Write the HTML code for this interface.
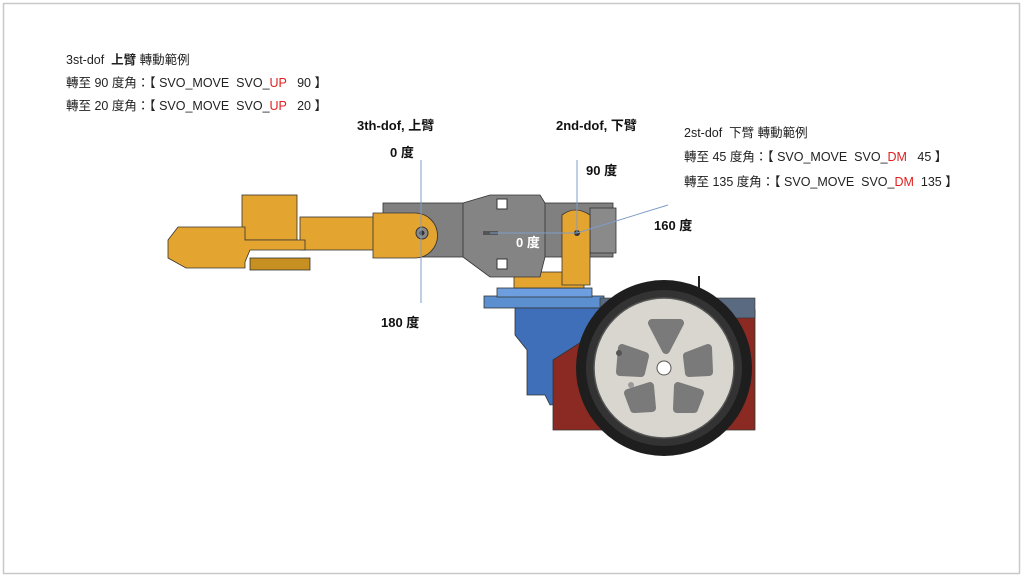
<!DOCTYPE html>
<html><head><meta charset="utf-8"><style>
html,body{margin:0;padding:0;background:#fff;}
svg{display:block;}
text{font-family:"Liberation Sans","Noto Sans CJK TC",sans-serif;white-space:pre;}
</style></head><body>
<svg width="1024" height="579" viewBox="0 0 1024 579" xmlns="http://www.w3.org/2000/svg" xml:space="preserve">
<rect x="0" y="0" width="1024" height="579" fill="#fff"/>
<rect x="3.5" y="3.5" width="1016" height="570" fill="none" stroke="#c8c8c8" stroke-width="1.5"/>

<g font-size="12.5" fill="#222">
<text x="66" y="64">3st-dof  <tspan font-weight="bold">上臂</tspan> 轉動範例</text>
<text x="66" y="87">轉至 90 度角：【 SVO_MOVE  SVO_<tspan fill="#e02020">UP</tspan>   90 】</text>
<text x="66" y="110">轉至 20 度角：【 SVO_MOVE  SVO_<tspan fill="#e02020">UP</tspan>   20 】</text>
<text x="684" y="137">2st-dof  下臂 轉動範例</text>
<text x="684" y="161">轉至 45 度角：【 SVO_MOVE  SVO_<tspan fill="#e02020">DM</tspan>   45 】</text>
<text x="684" y="186">轉至 135 度角：【 SVO_MOVE  SVO_<tspan fill="#e02020">DM</tspan>  135 】</text>
</g>

<!-- blue base -->
<rect x="484" y="296" width="120" height="12" fill="#5b8fd0" stroke="#333" stroke-width="0.8"/>
<rect x="497" y="288" width="95" height="9" fill="#6d9ee0" stroke="#333" stroke-width="0.8"/>
<polygon points="515,308 605,308 605,400 550,405 545,395 527,395 527,350 515,335" fill="#3f6fb8" stroke="#333" stroke-width="0.8"/>
<!-- red chassis -->
<polygon points="553,360 600,330 755,310 755,430 553,430" fill="#8b2a22" stroke="#333" stroke-width="0.8"/>
<rect x="600" y="298" width="155" height="20" fill="#5a6a80" stroke="#333" stroke-width="0.6"/>
<!-- wheel -->
<circle cx="664" cy="368" r="88" fill="#1e1e1e"/>
<circle cx="664" cy="368" r="78" fill="#333"/>
<circle cx="664" cy="368" r="70" fill="#d8d6ce" stroke="#555" stroke-width="1.5"/>
<g fill="#7a7a7a" stroke="#7a7a7a" stroke-width="8" stroke-linejoin="round">
<polygon points="652,323 680,323 666,350"/>
<polygon points="622,348 645,356 641,373 620,372"/>
<polygon points="687,356 708,348 709,372 689,373"/>
<polygon points="628,393 650,386 652,408 634,409"/>
<polygon points="678,386 700,393 694,409 677,409"/>
</g>
<circle cx="664" cy="368" r="7" fill="#fff" stroke="#555"/>
<circle cx="619" cy="353" r="3" fill="#555"/>
<circle cx="631" cy="385" r="3" fill="#999"/>
<line x1="699" y1="276" x2="699" y2="290" stroke="#222" stroke-width="2"/>

<rect x="514" y="272" width="70" height="16" fill="#e4a530" stroke="#333" stroke-width="0.8"/>
<rect x="383" y="203" width="230" height="54" fill="#808080" stroke="#333" stroke-width="0.8"/>
<polygon points="463,203 490,195 540,195 545,203 545,257 540,277 490,277 463,257" fill="#848484" stroke="#333" stroke-width="0.8"/>
<rect x="590" y="208" width="26" height="45" fill="#8a8a8a" stroke="#333" stroke-width="0.8"/>
<rect x="497" y="199" width="10" height="10" fill="#fff" stroke="#333"/>
<rect x="497" y="259" width="10" height="10" fill="#fff" stroke="#333"/>
<rect x="483" y="231" width="15" height="4" fill="#555"/>
<path d="M562,285 L562,215 Q575,205 590,215 L590,285 Z" fill="#e4a530" stroke="#333" stroke-width="0.8"/>
<circle cx="577" cy="233" r="3" fill="#333"/>
<rect x="300" y="217" width="80" height="33" fill="#e4a530" stroke="#333" stroke-width="0.8"/>
<path d="M373,213 L415,213 A22,22 0 0 1 415,258 L373,258 Z" fill="#e4a530" stroke="#333" stroke-width="0.8"/>
<circle cx="422" cy="233" r="6" fill="#888" stroke="#333"/>
<circle cx="422" cy="233" r="2.5" fill="#333"/>
<rect x="242" y="195" width="55" height="45" fill="#e4a530" stroke="#333" stroke-width="0.8"/>
<polygon points="178,227 245,227 245,240 305,240 305,250 250,250 245,262 245,268 186,268 168,258 168,240" fill="#e4a530" stroke="#333" stroke-width="0.8"/>
<rect x="250" y="258" width="60" height="12" fill="#c89020" stroke="#333" stroke-width="0.8"/>

<g stroke="#7f9cc8" stroke-width="1">
<line x1="421" y1="160" x2="421" y2="303"/>
<line x1="577" y1="160" x2="577" y2="233"/>
<line x1="490" y1="233" x2="577" y2="233"/>
<line x1="577" y1="233" x2="668" y2="205"/>
</g>

<g font-weight="bold" font-size="13" fill="#111">
<text x="357" y="130">3th-dof, 上臂</text>
<text x="390" y="157">0 度</text>
<text x="556" y="130">2nd-dof, 下臂</text>
<text x="586" y="175">90 度</text>
<text x="654" y="230">160 度</text>
<text x="381" y="327">180 度</text>
<text x="516" y="247" fill="#fff">0 度</text>
</g>
</svg>
</body></html>
